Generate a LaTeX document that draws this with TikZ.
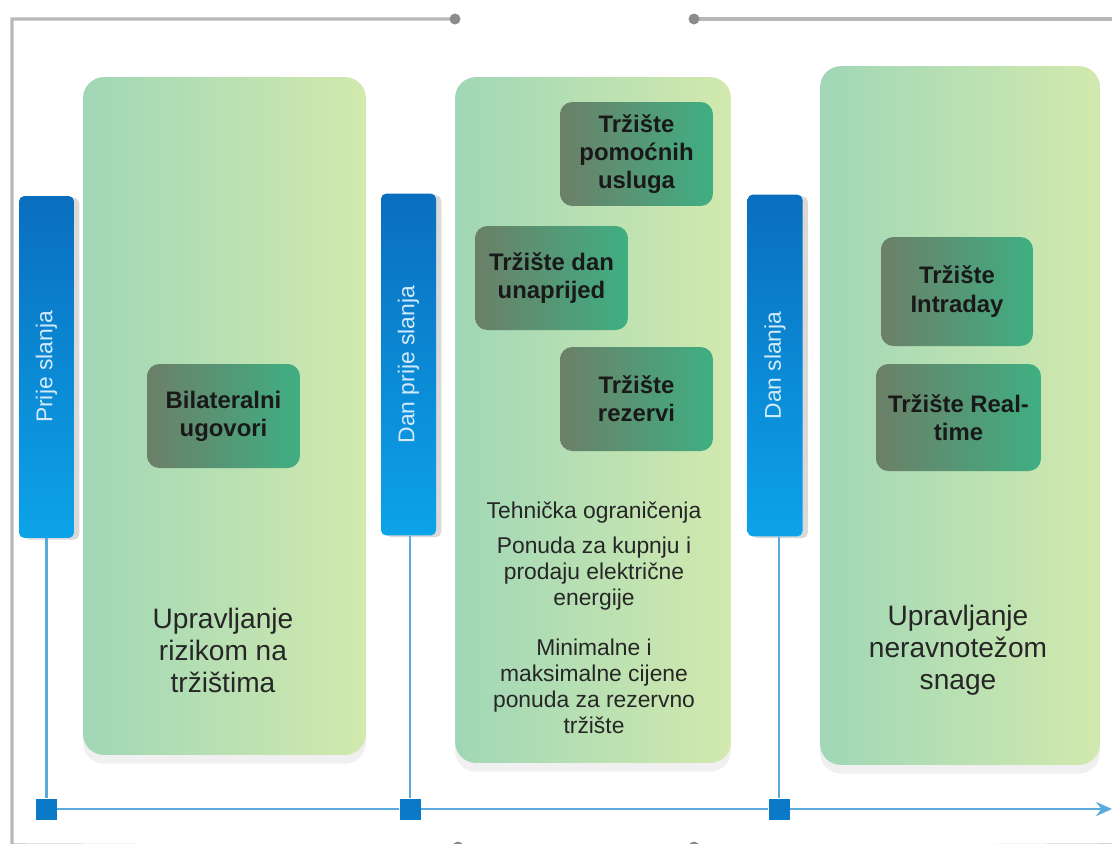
\documentclass[tikz,border=0pt]{standalone}
\usepackage{fontspec}
\setmainfont{Liberation Sans}
\definecolor{panelleft}{HTML}{A0D7B6}
\definecolor{panelright}{HTML}{D2E9AE}
\definecolor{boxleft}{HTML}{6C7F68}
\definecolor{boxright}{HTML}{3FAF82}
\definecolor{bartop}{HTML}{0A6EBE}
\definecolor{barbottom}{HTML}{0CA3E9}
\definecolor{bartext}{HTML}{D2EAFB}
\definecolor{axisblue}{HTML}{5AAADD}
\definecolor{framegray}{HTML}{B8B8B8}
\definecolor{dotgray}{HTML}{8C8C8C}
\usetikzlibrary{arrows.meta,positioning,shadows}

\begin{document}
\begin{tikzpicture}[
  x=0.02cm, y=-0.02cm,
  panel/.style={rounded corners=12pt, left color=panelleft, right color=panelright,
    drop shadow={shadow xshift=0pt, shadow yshift=-5pt, opacity=0.12}},
  phase/.style={rotate=90, rounded corners=3pt, minimum width=6.84cm, minimum height=1.1cm,
    top color=bartop, bottom color=barbottom, text=bartext, font=\fontsize{13}{15}\selectfont,
    drop shadow={shadow xshift=3pt, shadow yshift=-1pt, opacity=0.3}},
  market/.style={rounded corners=7pt, left color=boxleft, right color=boxright,
    minimum width=3.06cm, minimum height=2.08cm, align=center, text=black!90,
    font=\bfseries\fontsize{13.6}{16}\selectfont},
  note/.style={align=center, text=black!85, font=\fontsize{13}{14.8}\selectfont},
  big/.style={align=center, text=black!85, font=\fontsize{16}{18.2}\selectfont},
  tick/.style={fill=#1, minimum size=0.42cm, inner sep=0pt},
  arr/.style={-{Stealth[length=9pt,width=8pt]}, line width=1.6pt, #1},
  link/.style={line width=1.2pt, #1}
]
  \useasboundingbox (0,0) rectangle (1112,843);

  % Frame
  \coordinate (dtl) at (455,19);
  \coordinate (dtr) at (694,19);
  \coordinate (dbl) at (458,847);
  \coordinate (dbr) at (694,847);
  \draw[framegray, line width=1.8pt] (dtl) -- (12,19) -- (12,845) -- (dbl);
  \draw[framegray, line width=1.8pt] (dtr) -- (1112,19);
  \draw[framegray, line width=1.8pt] (dbr) -- (1112,845);
  \foreach \d in {dtl,dtr,dbl,dbr}
    \fill[dotgray] (\d) circle (5.5);

  % Panels
  \node[panel, minimum width=5.66cm, minimum height=13.56cm] (risk) at (224.5,416) {};
  \node[panel, minimum width=5.52cm, minimum height=13.72cm] (dayahead) at (593,420) {};
  \node[panel, minimum width=5.6cm, minimum height=13.98cm] (balance) at (960,415.5) {};

  % Markets
  \node[market] (bil) at (223.5,416) {Bilateralni\\ugovori};
  \node[market] (pom) at (636.5,154) {Tržište\\pomoćnih\\usluga};
  \node[market] (dan) at (551.5,278) {Tržište dan\\unaprijed};
  \node[market] (rez) at (636.5,399) {Tržište\\rezervi};
  \node[market, minimum width=3.04cm, minimum height=2.18cm] (intra) at (957,291.5) {Tržište\\Intraday};
  \node[market, minimum width=3.3cm, minimum height=2.14cm] (real) at (958.5,417.5) {Tržište Real-\\time};

  % Panel texts
  \node[big] (risktxt) at (223,650) {Upravljanje\\rizikom na\\tržištima};
  \node[note] (tech) at (594,513) {Tehnička ograničenja};
  \node[note] (bids) at (594,574) {Ponuda za kupnju i\\prodaju električne\\energije};
  \node[note] (prices) at (594,686) {Minimalne i\\maksimalne cijene\\ponuda za rezervno\\tržište};
  \node[big] (baltxt) at (958,650) {Upravljanje\\neravnotežom\\snage};

  % Phases
  \node[phase] (before) at (46.5,367) {Prije slanja};
  \node[phase] (daybefore) at (408.5,364.5) {Dan prije slanja};
  \node[phase] (day) at (775,365.5) {Dan slanja};

  % Time axis
  \node[tick=bartop!80!barbottom] (sq1) at (46.5,809) {};
  \node[tick=bartop!80!barbottom] (sq2) at (410,809) {};
  \node[tick=bartop!80!barbottom] (sq3) at (779,809) {};
  \coordinate (end) at (1112,809);
  \draw[link=axisblue] (before.west -| sq1) -- (sq1);
  \draw[link=axisblue] (daybefore.west -| sq2) -- (sq2);
  \draw[link=axisblue] (day.west -| sq3) -- (sq3);
  \draw[arr=axisblue] (sq1) -- (sq2) -- (sq3) -- (end);
\end{tikzpicture}
\end{document}
